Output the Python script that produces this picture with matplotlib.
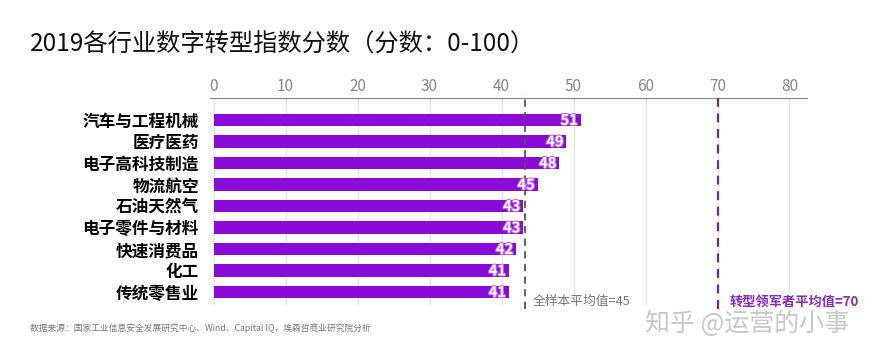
import matplotlib
matplotlib.use("Agg")
import matplotlib.pyplot as plt
import matplotlib.patheffects as pe

plt.rcParams['font.family'] = ['Noto Sans CJK SC', 'DejaVu Sans']

# data
industries = ["汽车与工程机械", "医疗医药", "电子高科技制造", "物流航空", "石油天然气",
              "电子零件与材料", "快速消费品", "化工", "传统零售业"]
scores = [51, 49, 48, 45, 43, 43, 42, 41, 41]
avg_all_pos = 43.3      # where the dashed line sits in the picture
avg_leader = 70
xticks = [0, 10, 20, 30, 40, 50, 60, 70, 80]

purple = "#8a0bd8"

fig = plt.figure(figsize=(8.78, 3.6), dpi=100)
ax = fig.add_axes([0.2391, 0.153, 0.6806, 0.575])

y = list(range(len(industries)))
ax.barh(y, scores, height=0.58, color=purple, zorder=2)
for yi, v in zip(y, scores):
    ax.text(v - 0.4, yi, str(v), ha="right", va="center", color="white",
            fontsize=10.5, fontweight="bold", zorder=4,
            path_effects=[pe.withStroke(linewidth=1.5, foreground="#c060f0")])

ax.set_xlim(-0.5, 82.5)
ax.set_ylim(len(industries) - 1 + 0.6, -1.02)
ax.set_yticks(y)
ax.set_yticklabels(industries, fontsize=12, fontweight="bold")
ax.tick_params(axis="y", length=0, pad=8)

ax.xaxis.tick_top()
ax.set_xticks(xticks)
ax.set_xticklabels([str(t) for t in xticks], fontsize=11, color="#888888")
ax.tick_params(axis="x", length=0, pad=2)
ax.grid(axis="x", color="#e4e4e4", linewidth=1, zorder=0)

for s in ["bottom", "left", "right"]:
    ax.spines[s].set_visible(False)
ax.spines["top"].set_color("#888888")

ax.axvline(avg_all_pos, ymin=-0.02, ymax=1.02, color="#555555", linestyle=(0, (4, 3)),
           linewidth=1.3, zorder=3, clip_on=False)
ax.axvline(avg_leader, ymin=-0.02, ymax=1.02, color="#6a2a9a", linestyle=(0, (4, 3)),
           linewidth=1.6, zorder=3, clip_on=False)

fig.text(0.607, 0.163, "全样本平均值=45", fontsize=9.2, color="#777777", va="center")
fig.text(0.831, 0.162, "转型领军者平均值=70", fontsize=9.5, color="#8a2ab8",
         fontweight="bold", va="center")

fig.text(0.034, 0.875, "2019各行业数字转型指数分数（分数：0-100）", fontsize=17.5,
         color="#111111", va="center")
fig.text(0.034, 0.088, "数据来源：国家工业信息安全发展研究中心、Wind、Capital IQ，埃森哲商业研究院分析",
         fontsize=6.3, color="#777777", va="center")
fig.text(0.735, 0.100, "知乎 @运营的小事", fontsize=18, color="#c8c8c8", va="center")

fig.savefig("out.png", dpi=100, facecolor="white")
